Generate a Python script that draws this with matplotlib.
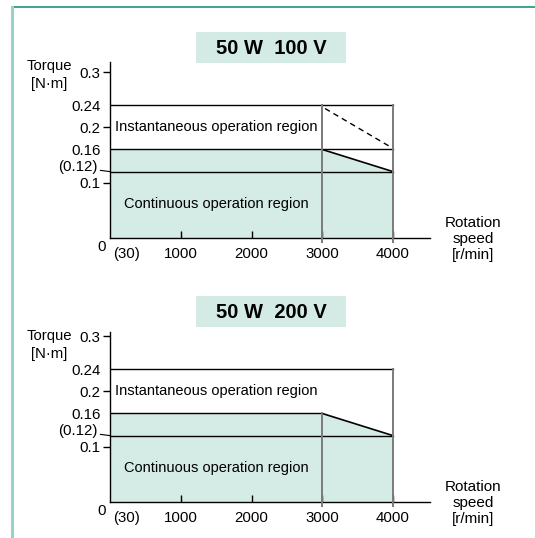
import matplotlib
matplotlib.use("Agg")
import matplotlib.pyplot as plt
from matplotlib.patches import Rectangle
from matplotlib.lines import Line2D

plt.rcParams['font.family'] = ['Liberation Sans', 'DejaVu Sans']

# ---- data ----
panel_titles = ["50 W  100 V", "50 W  200 V"]
speed_ticks = [1000, 2000, 3000, 4000]
speed_tick_labels = ["1000", "2000", "3000", "4000"]
torque_ticks = [0.1, 0.16, 0.2, 0.24, 0.3]
torque_tick_labels = ["0.1", "0.16", "0.2", "0.24", "0.3"]
min_speed_label = "(30)"
min_speed = 30
rated_speed = 3000
max_speed = 4000
instant_torque = 0.24
rated_torque = 0.16
torque_at_max = 0.12
# continuous region outline (speed, torque)
cont_speed = [0, 3000, 4000]
cont_torque = [0.16, 0.16, 0.12]
# instantaneous drop-off for 100 V (dashed)
inst_drop_speed = [3000, 4000]
inst_drop_torque = [0.24, 0.16]

W, H = 535, 538
fig = plt.figure(figsize=(W / 100, H / 100), dpi=100)
fig.patch.set_facecolor("white")

def fx(p):
    return p / W

def fy(p):
    return 1 - p / H

FILL = "#d5ebe5"
GRAY = "#7a7a7a"
TICK_FS = 10.8

# outer frame
fig.add_artist(Line2D([fx(12), 1.0], [fy(7), fy(7)], color="#2e9c84", lw=1.3,
                      transform=fig.transFigure))
fig.add_artist(Line2D([fx(12), fx(12)], [fy(7), 0], color="#93d6c8", lw=2.2,
                      transform=fig.transFigure))

PXU = 553.3  # pixels per torque unit
PXS = 283 / 4000  # pixels per r/min


def panel(idx, title, y_axis0, y_top, title_box_top, dashed):
    ax_left, ax_right = 110, 430
    ax = fig.add_axes([fx(ax_left), fy(y_axis0), (ax_right - ax_left) / W,
                       (y_axis0 - y_top) / H])
    ax.set_xlim(0, (ax_right - ax_left) / PXS)
    ax.set_ylim(0, (y_axis0 - y_top) / PXU)
    ax.patch.set_alpha(0)
    for s in ["top", "right"]:
        ax.spines[s].set_visible(False)
    for s in ["left", "bottom"]:
        ax.spines[s].set_linewidth(1.0)
        ax.spines[s].set_color("black")

    # continuous region
    ax.fill_between(cont_speed, 0, cont_torque, color=FILL, lw=0, zorder=1)
    # box lines
    ax.plot([0, max_speed], [instant_torque, instant_torque], color="black", lw=1.0, zorder=3)
    if dashed:
        ax.plot([0, max_speed], [rated_torque, rated_torque], color="black", lw=1.0, zorder=3)
    else:
        ax.plot([0, rated_speed], [rated_torque, rated_torque], color="black", lw=1.0, zorder=3)
    ax.plot([0, max_speed], [torque_at_max, torque_at_max], color="black", lw=1.0, zorder=3)
    ax.plot(cont_speed[1:], cont_torque[1:], color="black", lw=1.2, zorder=3)
    ymin_v = -4 / PXU
    ax.plot([rated_speed, rated_speed], [ymin_v, instant_torque if dashed else rated_torque],
            color=GRAY, lw=1.4, zorder=4, clip_on=False)
    ax.plot([max_speed, max_speed], [ymin_v, instant_torque], color=GRAY, lw=1.4, zorder=4,
            clip_on=False)
    if dashed:
        ax.plot([inst_drop_speed[0] + 40, inst_drop_speed[1]],
                [inst_drop_torque[0] - 0.006, inst_drop_torque[1] + 0.002],
                color="black", lw=1.0, ls=(0, (4, 3)), zorder=3)

    # ticks
    ax.set_yticks(torque_ticks)
    ax.set_yticklabels(torque_tick_labels)
    ax.tick_params(axis="y", direction="out", length=5, width=1.0, pad=2, labelsize=TICK_FS)
    for t, v in zip(ax.yaxis.get_major_ticks(), torque_ticks):
        if v in (0.16, 0.24):
            t.tick1line.set_visible(False)
    ax.set_xticks(speed_ticks)
    ax.set_xticklabels(speed_tick_labels)
    ax.tick_params(axis="x", direction="in", length=5, width=1.0, pad=6.5, labelsize=TICK_FS)

    # (0.12) label with leader
    ax.annotate("(0.12)", xy=(0, torque_at_max), xytext=(-9, 3), textcoords="offset points",
                ha="right", va="center", fontsize=TICK_FS,
                arrowprops=dict(arrowstyle="-", lw=0.8, color="black", shrinkA=0, shrinkB=0))
    # origin labels
    ax.annotate("0", xy=(0, 0), xytext=(-3, -6.5), textcoords="offset points",
                ha="right", va="center", fontsize=TICK_FS, annotation_clip=False)
    ax.annotate(min_speed_label, xy=(min_speed, 0), xytext=(1, -11.5), textcoords="offset points",
                ha="left", va="center", fontsize=TICK_FS, annotation_clip=False)

    # region labels
    ax.text((216 - ax_left) / PXS, 0.2, "Instantaneous operation region", ha="center",
            va="center", fontsize=10.5, zorder=5)
    ax.text((216 - ax_left) / PXS, 0.062, "Continuous operation region", ha="center",
            va="center", fontsize=10.5, zorder=5)

    # axis titles
    fig.text(fx(473), fy(y_axis0 + 1), "Rotation\nspeed\n[r/min]", ha="center", va="center",
             fontsize=11, linespacing=1.15)
    fig.text(fx(49), fy(y_top + 13), "Torque\n[N·m]", ha="center", va="center",
             fontsize=10.7, linespacing=1.35)

    # title box
    fig.add_artist(Rectangle((fx(196), fy(title_box_top + 31)), 150 / W, 31 / H,
                             transform=fig.transFigure, facecolor="#d3ebe4", edgecolor="none"))
    fig.text(fx(271), fy(title_box_top + 16), title, ha="center", va="center",
             fontsize=14.5, fontweight="bold")
    return ax


panel(0, panel_titles[0], 238, 62, 32, True)
panel(1, panel_titles[1], 502, 332, 296, False)

fig.savefig("out.png", dpi=100)
